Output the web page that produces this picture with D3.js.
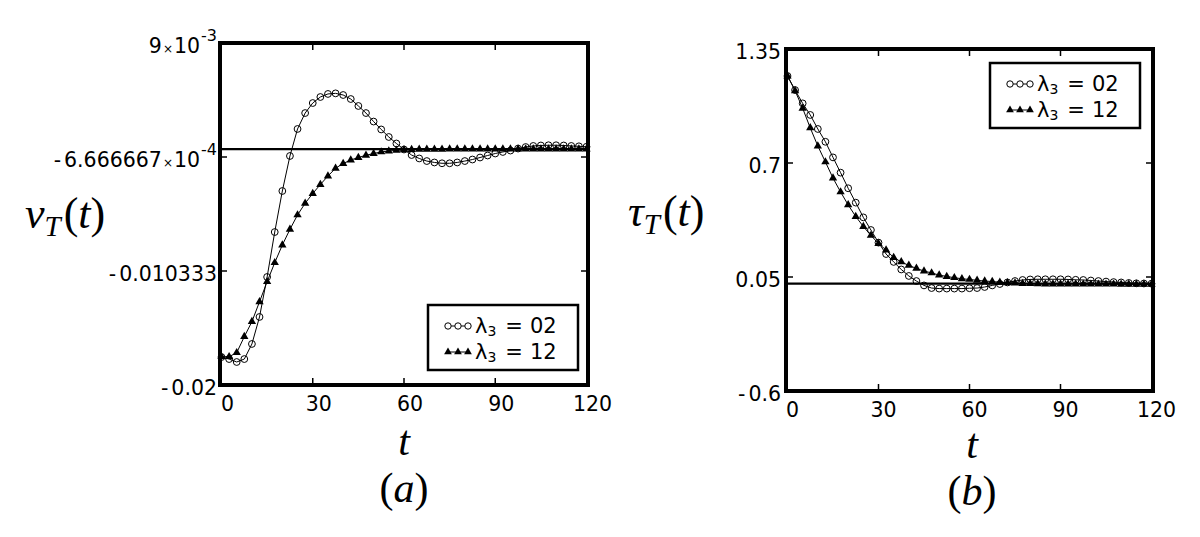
<!DOCTYPE html>
<html><head><meta charset="utf-8">
<script src="https://cdn.jsdelivr.net/npm/d3@7"></script>
<style>body{margin:0;background:#fff;} svg{display:block;}</style>
</head><body><svg id="c" width="1200" height="537"></svg>
<script>
// ---------------- data ----------------
const tGrid = [0,2.5,5,7.5,10,12.5,15,17.5,20,22.5,25,27.5,30,32.5,35,37.5,40,42.5,45,47.5,50,52.5,55,57.5,60,62.5,65,67.5,70,72.5,75,77.5,80,82.5,85,87.5,90,92.5,95,97.5,100,102.5,105,107.5,110,112.5,115,117.5,120];
const seriesNames = ["02","12"];
// panel (a): v_T(t)
const vT_lambda02 = [-0.01763,-0.01780,-0.01805,-0.01780,-0.01652,-0.01423,-0.01084,-0.00703,-0.00355,-0.00058,0.00171,0.00306,0.00391,0.00442,0.00468,0.00473,0.00459,0.00425,0.00366,0.00306,0.00234,0.00167,0.00103,0.00048,-0.00003,-0.00050,-0.00079,-0.00101,-0.00113,-0.00120,-0.00120,-0.00113,-0.00101,-0.00088,-0.00071,-0.00054,-0.00037,-0.00024,-0.00012,0.00005,0.00018,0.00027,0.00031,0.00033,0.00033,0.00031,0.00027,0.00024,0.00020];
const vT_lambda12 = [-0.01760,-0.01760,-0.01726,-0.01590,-0.01463,-0.01294,-0.01124,-0.00963,-0.00813,-0.00680,-0.00558,-0.00459,-0.00376,-0.00300,-0.00228,-0.00162,-0.00122,-0.00092,-0.00071,-0.00052,-0.00037,-0.00024,-0.00016,-0.00010,-0.00006,-0.00003,-0.00002,-0.00001,-0.00001,-0.00001,0,0,0,0,0,0,0,0,0,0,0,0,0,0,0,0,0,0,0];
// panel (b): tau_T(t)
const tauT_lambda02 = [1.196,1.116,1.040,0.974,0.894,0.821,0.732,0.645,0.556,0.474,0.390,0.318,0.246,0.181,0.136,0.093,0.056,0.027,0.002,-0.013,-0.016,-0.016,-0.016,-0.016,-0.014,-0.013,-0.007,0.002,0.010,0.019,0.027,0.033,0.036,0.037,0.037,0.037,0.037,0.036,0.034,0.033,0.030,0.027,0.024,0.021,0.019,0.016,0.014,0.013,0.012];
const tauT_lambda12 = [1.196,1.112,1.012,0.900,0.797,0.706,0.614,0.535,0.461,0.395,0.338,0.287,0.241,0.204,0.161,0.136,0.116,0.099,0.084,0.073,0.061,0.053,0.046,0.040,0.036,0.031,0.027,0.024,0.020,0.017,0.015,0.013,0.012,0.011,0.010,0.010,0.010,0.010,0.010,0.009,0.009,0.009,0.009,0.009,0.008,0.008,0.008,0.008,0.008];
const xTicks = [0,30,60,90,120];
const xTickLabels = ["0","30","60","90","120"];
const vTicks = [0.009,-0.0006666667,-0.0103333333,-0.02];
const vTickLabels = ["9×10^-3","-6.666667×10^-4","-0.010333","-0.02"];
const tauTicks = [1.35,0.7,0.05,-0.6];
const tauTickLabels = ["1.35","0.7","0.05","-0.6"];
const vRef = 0;
const tauRef = 0.012;

// ---------------- drawing ----------------
const svg = d3.select("#c");
const TICKFONT = "'DejaVu Sans', Verdana, sans-serif";
const MATHFONT = "'Liberation Serif', 'Times New Roman', serif";

function tickText(sel, s){
  let neg = s.startsWith("-");
  if (neg) s = s.slice(1);
  const parts = s.split("×10^");
  if (neg) sel.append("tspan").text("-");
  sel.append("tspan").attr("dx", neg ? 3 : 0).text(parts[0]);
  if (parts.length > 1) {
    sel.append("tspan").attr("font-size", 12).attr("dx", 1).text("×");
    sel.append("tspan").attr("dx", 1).text("10");
    sel.append("tspan").attr("font-size", 16).attr("dy", -12).attr("dx", 1).text(parts[1]);
  }
}

function panel(cfg){
  const g = svg.append("g");
  const x = d3.scaleLinear().domain([0,120]).range([cfg.x0+1.5, cfg.x1-1.5]);
  const y = d3.scaleLinear().domain(cfg.yDomain).range([cfg.y0, cfg.y1]);

  // reference line
  g.append("line").attr("x1", cfg.x0).attr("x2", cfg.x1)
    .attr("y1", y(cfg.ref)).attr("y2", y(cfg.ref))
    .attr("stroke", "#000").attr("stroke-width", 2.2);

  // series
  const line = d3.line().x((d,i)=>x(tGrid[i])).y(d=>y(d));
  cfg.series.forEach((s, k) => {
    g.append("path").datum(s).attr("d", line)
      .attr("fill","none").attr("stroke","#000").attr("stroke-width",1);
  });
  // circles (series 0)
  g.append("g").selectAll("circle").data(cfg.series[0]).join("circle")
    .attr("cx",(d,i)=>x(tGrid[i])).attr("cy",d=>y(d)).attr("r",3.4)
    .attr("fill","none").attr("stroke","#000").attr("stroke-width",1);
  // triangles (series 1)
  const tri = d3.symbol().type(d3.symbolTriangle).size(30);
  g.append("g").selectAll("path").data(cfg.series[1]).join("path")
    .attr("d", tri).attr("transform",(d,i)=>`translate(${x(tGrid[i])},${y(d)})`)
    .attr("fill","#000");

  // ticks inside on all four sides
  const TL = 7;
  xTicks.forEach(v => {
    if (v === 0 || v === 120) return;
    g.append("line").attr("x1",x(v)).attr("x2",x(v)).attr("y1",cfg.y1).attr("y2",cfg.y1-TL).attr("stroke","#000").attr("stroke-width",1.5);
    g.append("line").attr("x1",x(v)).attr("x2",x(v)).attr("y1",cfg.y0).attr("y2",cfg.y0+TL).attr("stroke","#000").attr("stroke-width",1.5);
  });
  cfg.yTicks.forEach((v,i) => {
    if (i === 0 || i === cfg.yTicks.length-1) return;
    g.append("line").attr("x1",cfg.x0).attr("x2",cfg.x0+TL).attr("y1",y(v)).attr("y2",y(v)).attr("stroke","#000").attr("stroke-width",1.5);
    g.append("line").attr("x1",cfg.x1).attr("x2",cfg.x1-TL).attr("y1",y(v)).attr("y2",y(v)).attr("stroke","#000").attr("stroke-width",1.5);
  });

  // frame
  g.append("rect").attr("x",cfg.x0).attr("y",cfg.y0)
    .attr("width",cfg.x1-cfg.x0).attr("height",cfg.y1-cfg.y0)
    .attr("fill","none").attr("stroke","#000").attr("stroke-width",4);

  // x tick labels
  xTicks.forEach((v,i) => {
    g.append("text").attr("x", x(v)+cfg.xLabDx).attr("y", cfg.y1+26)
      .attr("text-anchor","middle").attr("font-family",TICKFONT).attr("font-size",20.5)
      .text(xTickLabels[i]);
  });
  // y tick labels
  cfg.yTicks.forEach((v,i) => {
    const t = g.append("text").attr("x", cfg.x0 - cfg.yLabGap).attr("y", y(v)+10)
      .attr("text-anchor","end").attr("font-family",TICKFONT).attr("font-size",20.5);
    tickText(t, cfg.yTickLabels[i]);
  });

  // legend
  const lg = g.append("g").attr("transform",`translate(${cfg.legX},${cfg.legY})`);
  lg.append("rect").attr("width",150).attr("height",65)
    .attr("fill","#fff").attr("stroke","#000").attr("stroke-width",2.5);
  [0,1].forEach(k => {
    const cy = k === 0 ? 21 : 47;
    lg.append("line").attr("x1",18).attr("x2",42).attr("y1",cy).attr("y2",cy).attr("stroke","#000").attr("stroke-width",1);
    [20,30,40].forEach(mx => {
      if (k === 0) lg.append("circle").attr("cx",mx).attr("cy",cy).attr("r",3.2).attr("fill","#fff").attr("stroke","#000").attr("stroke-width",1);
      else lg.append("path").attr("d",d3.symbol().type(d3.symbolTriangle).size(26)).attr("transform",`translate(${mx},${cy})`).attr("fill","#000");
    });
    const tx = lg.append("text").attr("x",47).attr("y",cy+7).attr("font-family",TICKFONT).attr("font-size",21);
    tx.append("tspan").text("λ");
    tx.append("tspan").attr("font-size",14).attr("dy",3).text("3");
    tx.append("tspan").attr("dy",-3).attr("dx",9).text("=");
    tx.append("tspan").attr("dx",7).text(seriesNames[k]);
  });

  // axis titles
  const yl = g.append("text").attr("x",cfg.yTitleX).attr("y",cfg.yTitleY)
    .attr("font-family",MATHFONT).attr("font-size",44);
  yl.append("tspan").attr("font-style","italic").text(cfg.yTitleSym);
  yl.append("tspan").attr("font-style","italic").attr("font-size",29).attr("dy",8).text("T");
  yl.append("tspan").attr("dy",-8).attr("dx",3).text("(");
  yl.append("tspan").attr("font-style","italic").text("t");
  yl.append("tspan").text(")");

  g.append("text").attr("x",cfg.xTitleX).attr("y",cfg.xTitleY).attr("text-anchor","middle")
    .attr("font-family",MATHFONT).attr("font-size",42).attr("font-style","italic").text("t");
  const pl = g.append("text").attr("x",cfg.xTitleX).attr("y",cfg.xTitleY+47).attr("text-anchor","middle")
    .attr("font-family",MATHFONT).attr("font-size",42);
  pl.append("tspan").text("(");
  pl.append("tspan").attr("font-style","italic").text(cfg.panelLetter);
  pl.append("tspan").text(")");
}

panel({x0:220,x1:588,y0:43,y1:385,yDomain:[0.009,-0.02],yTicks:vTicks,yTickLabels:vTickLabels,
  ref:vRef,series:[vT_lambda02,vT_lambda12],xLabDx:6,yLabGap:3,legX:428,legY:305,
  yTitleSym:"v",yTitleX:25,yTitleY:228,xTitleX:404,xTitleY:455,panelLetter:"a"});
panel({x0:786,x1:1153,y0:49,y1:391,yDomain:[1.35,-0.6],yTicks:tauTicks,yTickLabels:tauTickLabels,
  ref:tauRef,series:[tauT_lambda02,tauT_lambda12],xLabDx:5,yLabGap:5,legX:990,legY:63,
  yTitleSym:"τ",yTitleX:628,yTitleY:226,xTitleX:972,xTitleY:458,panelLetter:"b"});
</script>
</body></html>
